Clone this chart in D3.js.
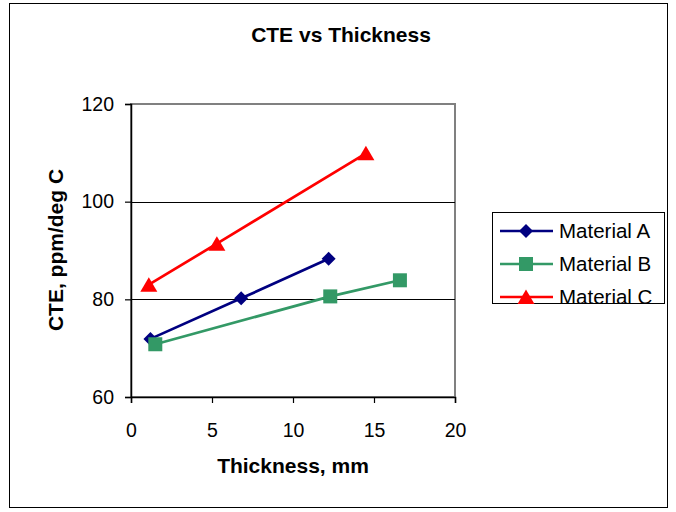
<!DOCTYPE html>
<html>
<head>
<meta charset="utf-8">
<script src="https://cdn.jsdelivr.net/npm/d3@7"></script>
<style>
  html, body { margin: 0; padding: 0; background: #fff; }
  svg { display: block; font-family: "Liberation Sans", Arial, sans-serif; }
</style>
</head>
<body>
<svg id="chart" width="676" height="512"></svg>
<script>
// Thickness (mm) and CTE (ppm/deg C) for each material
const seriesNames = ["Material A", "Material B", "Material C"];
const thicknessA = [1.2, 6.8, 12.2];
const cteA = [71.9, 80.2, 88.3];
const thicknessB = [1.5, 12.3, 16.6];
const cteB = [70.8, 80.6, 83.9];
const thicknessC = [1.1, 5.3, 14.5];
const cteC = [83.0, 91.4, 109.9];
const seriesColors = ["#000080", "#339966", "#ff0000"];
const seriesSymbols = ["diamond", "square", "triangle"];
const xTicks = [0, 5, 10, 15, 20];
const yTicks = [60, 80, 100, 120];

const series = [
  { name: seriesNames[0], xs: thicknessA, ys: cteA, color: seriesColors[0], symbol: seriesSymbols[0] },
  { name: seriesNames[1], xs: thicknessB, ys: cteB, color: seriesColors[1], symbol: seriesSymbols[1] },
  { name: seriesNames[2], xs: thicknessC, ys: cteC, color: seriesColors[2], symbol: seriesSymbols[2] }
];

const svg = d3.select("#chart");
const plot = { left: 131, right: 455, top: 104, bottom: 397 };
const fontFamily = "'Liberation Sans', Arial, sans-serif";

// Outer chart frame
svg.append("rect").attr("x", 9.5).attr("y", 3.5).attr("width", 658).attr("height", 504)
  .attr("fill", "#fff").attr("stroke", "#000").attr("stroke-width", 1);

const x = d3.scaleLinear().domain([0, 20]).range([plot.left, plot.right]);
const y = d3.scaleLinear().domain([60, 120]).range([plot.bottom, plot.top]);

// Plot area border (grey top/right)
svg.append("rect").attr("x", plot.left).attr("y", plot.top)
  .attr("width", plot.right - plot.left).attr("height", plot.bottom - plot.top)
  .attr("fill", "none").attr("stroke", "#808080").attr("stroke-width", 2);

// Horizontal gridlines
svg.append("g").selectAll("line").data(yTicks.filter(v => v > 60 && v < 120)).join("line")
  .attr("x1", plot.left).attr("x2", plot.right)
  .attr("y1", d => Math.round(y(d)) + 0.5).attr("y2", d => Math.round(y(d)) + 0.5)
  .attr("stroke", "#000").attr("stroke-width", 1);

// Axes
const xAxis = svg.append("g").attr("transform", `translate(0,${plot.bottom})`)
  .call(d3.axisBottom(x).tickValues(xTicks).tickSize(6).tickPadding(8).tickFormat(d3.format("d")));
const yAxis = svg.append("g").attr("transform", `translate(${plot.left},0)`)
  .call(d3.axisLeft(y).tickValues(yTicks).tickSize(6).tickPadding(11).tickFormat(d3.format("d")));
[xAxis, yAxis].forEach(g => {
  g.select(".domain").attr("stroke", "#000").attr("stroke-width", 1.5);
  g.selectAll(".tick line").attr("stroke", "#000").attr("stroke-width", 1.2);
  g.selectAll(".tick text").attr("font-size", 19.5).attr("fill", "#000")
    .attr("font-family", fontFamily);
});
xAxis.selectAll(".tick text").attr("dy", 0).attr("y", 40);

// Marker shapes: diamond, square and a box-centred triangle
function markerPath(kind) {
  if (kind === "diamond") return "M0,-7L7,0L0,7L-7,0Z";
  if (kind === "square") return "M-7,-7H7V7H-7Z";
  return "M0,-7.5L8.5,7L-8.5,7Z";
}

const line = d3.line().x(d => x(d[0])).y(d => y(d[1]));

series.forEach(s => {
  const pts = s.xs.map((v, i) => [v, s.ys[i]]);
  svg.append("path").datum(pts).attr("d", line)
    .attr("fill", "none").attr("stroke", s.color).attr("stroke-width", 2.7);
  svg.append("g").selectAll("path").data(pts).join("path")
    .attr("transform", d => `translate(${x(d[0])},${y(d[1])})`)
    .attr("d", markerPath(s.symbol))
    .attr("fill", s.color);
});

// Title and axis titles
svg.append("text").attr("x", 341).attr("y", 41.5).attr("text-anchor", "middle")
  .attr("font-size", 21).attr("font-weight", "bold").text("CTE vs Thickness");
svg.append("text").attr("x", 293).attr("y", 473).attr("text-anchor", "middle")
  .attr("font-size", 21).attr("font-weight", "bold").text("Thickness, mm");
svg.append("text").attr("transform", "translate(63,250) rotate(-90)").attr("text-anchor", "middle")
  .attr("font-size", 21).attr("font-weight", "bold").text("CTE, ppm/deg C");

// Legend
const legend = svg.append("g");
legend.append("rect").attr("x", 492.5).attr("y", 212.5).attr("width", 172).attr("height", 91)
  .attr("fill", "#fff").attr("stroke", "#000").attr("stroke-width", 1);
series.forEach((s, i) => {
  const ly = 231 + i * 33;
  legend.append("line").attr("x1", 500).attr("x2", 553).attr("y1", ly).attr("y2", ly)
    .attr("stroke", s.color).attr("stroke-width", 2.7);
  legend.append("path").attr("transform", `translate(526,${ly})`)
    .attr("d", markerPath(s.symbol))
    .attr("fill", s.color);
  legend.append("text").attr("x", 559).attr("y", ly + 6.8).attr("font-size", 20.5)
    .text(s.name);
});
</script>
</body>
</html>
